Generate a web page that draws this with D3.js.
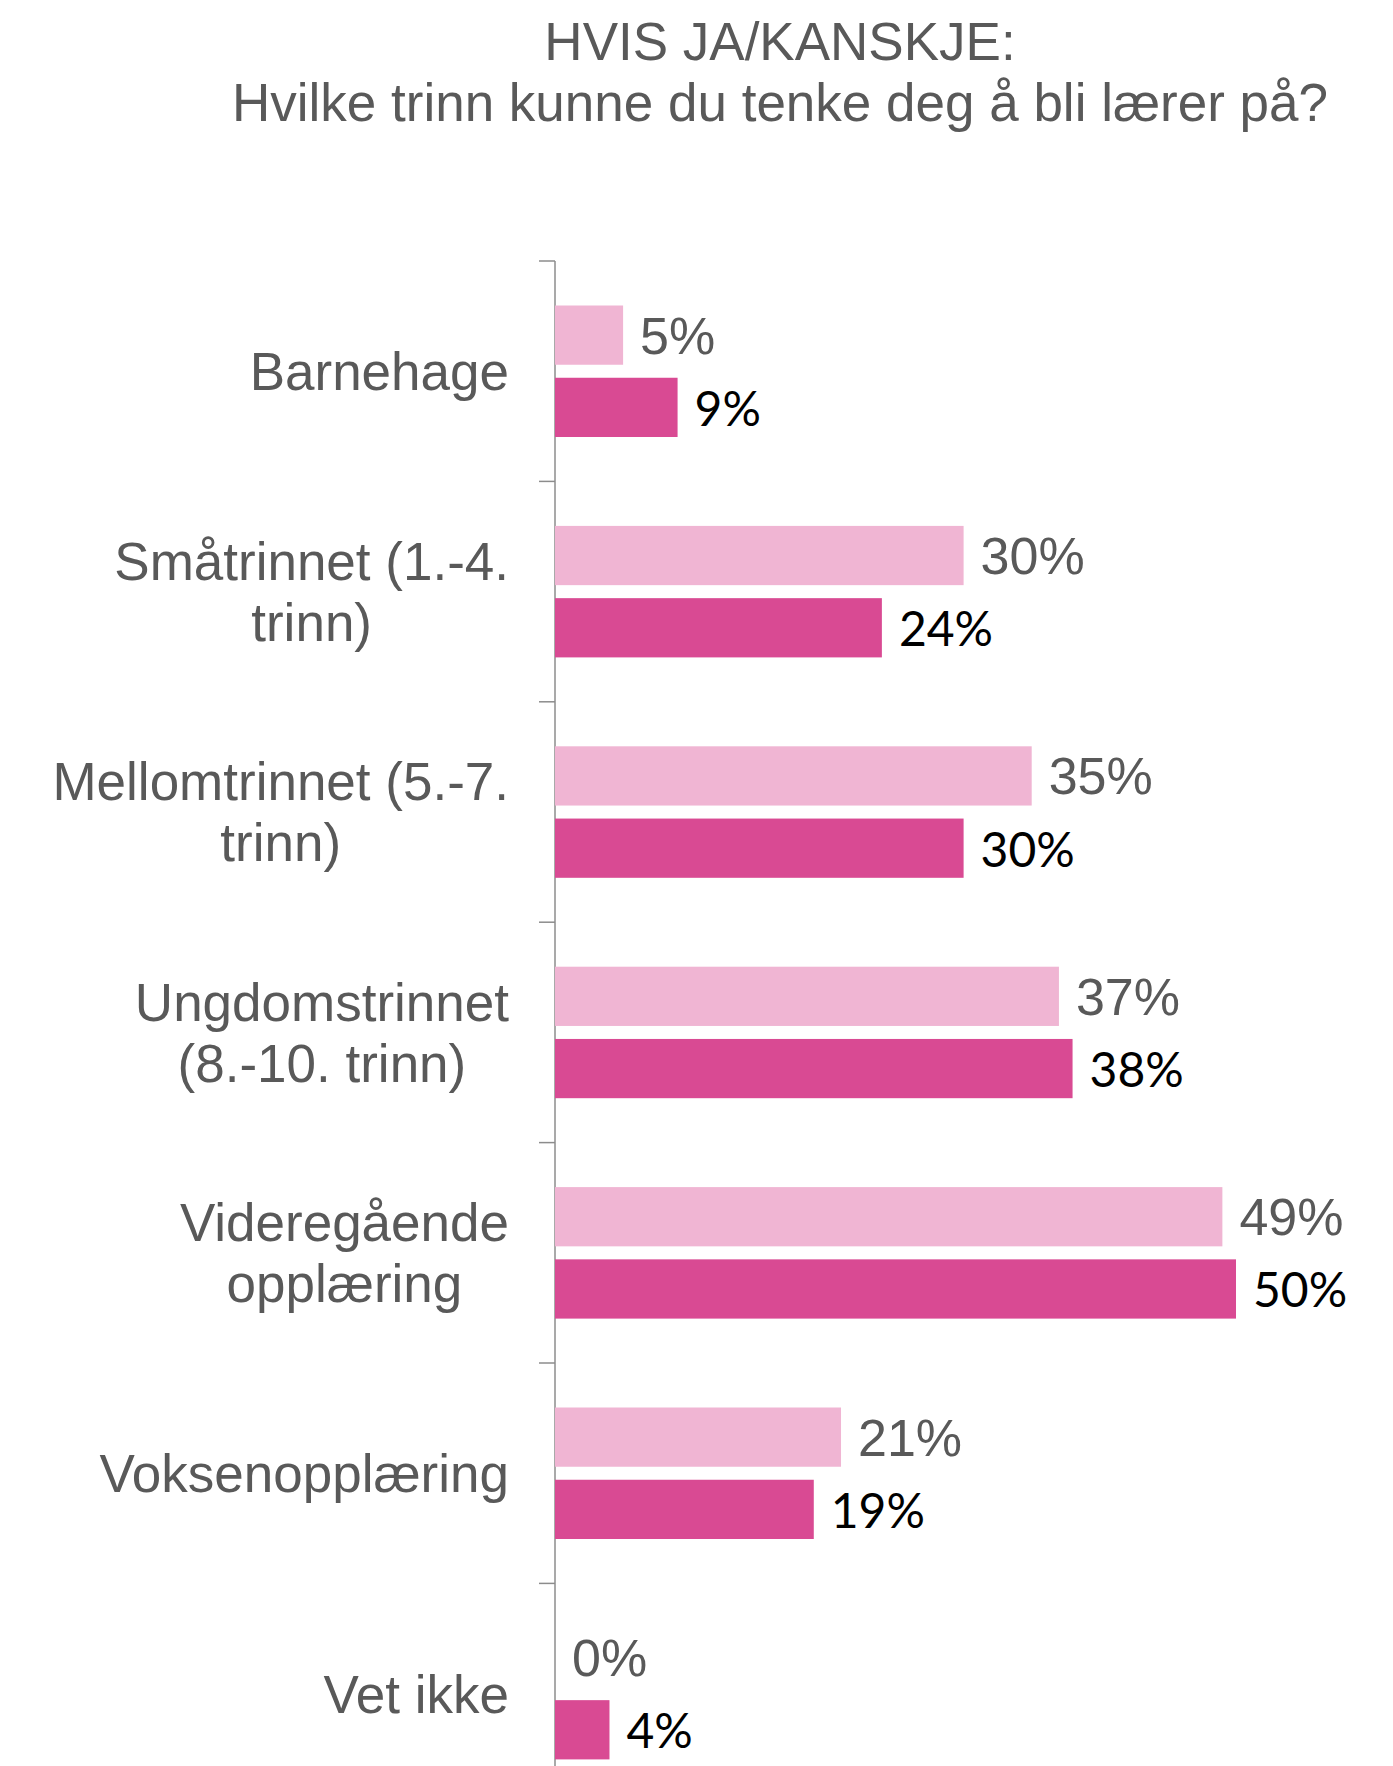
<!DOCTYPE html>
<html><head><meta charset="utf-8">
<script src="https://cdn.jsdelivr.net/npm/d3@7"></script>
<style>html,body{margin:0;padding:0;background:#fff;overflow:hidden}</style>
</head><body>
<svg id="chart" width="1393" height="1766"></svg>
<script>
const titleLines = ["HVIS JA/KANSKJE:", "Hvilke trinn kunne du tenke deg å bli lærer på?"];
const categories = ["Barnehage", "Småtrinnet (1.-4. trinn)", "Mellomtrinnet (5.-7. trinn)", "Ungdomstrinnet (8.-10. trinn)", "Videregående opplæring", "Voksenopplæring", "Vet ikke"];
const categoryLines = [["Barnehage"], ["Småtrinnet (1.-4.", "trinn)"], ["Mellomtrinnet (5.-7.", "trinn)"], ["Ungdomstrinnet", "(8.-10. trinn)"], ["Videregående", "opplæring"], ["Voksenopplæring"], ["Vet ikke"]];
const seriesNames = ["Serie 1", "Serie 2"];
const series1 = [5, 30, 35, 37, 49, 21, 0];
const series2 = [9, 24, 30, 38, 50, 19, 4];

const svg = d3.select("#chart");
const textColor = "#595959";
const colors = {"Serie 1": "#f0b5d3", "Serie 2": "#d94a93"};
const labelColors = {"Serie 1": "#595959", "Serie 2": "#000000"};
const labelFonts = {"Serie 1": "'Liberation Sans', Arial, sans-serif", "Serie 2": "Lato, 'Open Sans', sans-serif"};
const labelSizes = {"Serie 1": 52, "Serie 2": 48};

const axisX = 555, plotTop = 261, band = 220.4;
const x = d3.scaleLinear().domain([0, 50]).range([axisX, axisX + 681]);
const y = d3.scaleBand().domain(categories).range([plotTop, plotTop + band * categories.length]).padding(0);
const ySub = d3.scaleBand().domain(seriesNames).range([44.5, 176]).paddingInner(0.18);

// title
svg.append("g").selectAll("text").data(titleLines).join("text")
  .attr("x", 780).attr("y", (d, i) => 60 + i * 61)
  .attr("text-anchor", "middle")
  .attr("font-family", "'Liberation Sans', Arial, sans-serif")
  .attr("font-size", 53).attr("fill", textColor).text(d => d);

// axis
const axis = d3.axisLeft(y).tickSize(0).tickFormat("");
const ag = svg.append("g").attr("transform", `translate(${axisX},0)`).call(axis);
ag.select(".domain").attr("stroke", "#8c8c8c").attr("stroke-width", 1.5)
  .attr("d", `M0,${plotTop}V${plotTop + band * categories.length}`);
ag.selectAll(".tick").remove();
ag.selectAll("line.bt").data(d3.range(categories.length + 1)).join("line")
  .attr("class", "bt")
  .attr("x1", -16).attr("x2", 0)
  .attr("y1", i => plotTop + i * band).attr("y2", i => plotTop + i * band)
  .attr("stroke", "#8c8c8c").attr("stroke-width", 1.5);

// data table
const rows = categories.map((c, i) => ({cat: c, lines: categoryLines[i], vals: [
  {s: seriesNames[0], v: series1[i]}, {s: seriesNames[1], v: series2[i]}]}));

const groups = svg.append("g").selectAll("g.cat").data(rows).join("g")
  .attr("class", "cat").attr("transform", d => `translate(0,${y(d.cat)})`);

groups.selectAll("rect").data(d => d.vals).join("rect")
  .attr("x", x(0)).attr("y", d => ySub(d.s))
  .attr("width", d => x(d.v) - x(0)).attr("height", ySub.bandwidth())
  .attr("fill", d => colors[d.s]);

groups.selectAll("text.val").data(d => d.vals).join("text")
  .attr("class", "val")
  .attr("x", d => x(d.v) + 17)
  .attr("y", d => ySub(d.s) + ySub.bandwidth() / 2 + 18.5)
  .attr("font-family", d => labelFonts[d.s])
  .attr("font-size", d => labelSizes[d.s])
  .attr("fill", d => labelColors[d.s])
  .text(d => d.v + "%");

// category labels (centered lines, block right-aligned)
const labelRight = 509, lineH = 61;
groups.each(function(d) {
  const g = d3.select(this);
  const n = d.lines.length;
  const texts = g.selectAll("text.cl").data(d.lines).join("text")
    .attr("class", "cl")
    .attr("font-family", "'Liberation Sans', Arial, sans-serif")
    .attr("font-size", 53).attr("fill", textColor)
    .attr("text-anchor", "middle")
    .attr("y", (t, i) => band / 2 + 19 + (i - (n - 1) / 2) * lineH)
    .text(t => t);
  let maxW = 0;
  texts.each(function() { maxW = Math.max(maxW, this.getComputedTextLength()); });
  texts.attr("x", labelRight - maxW / 2);
});
</script>
</body></html>
